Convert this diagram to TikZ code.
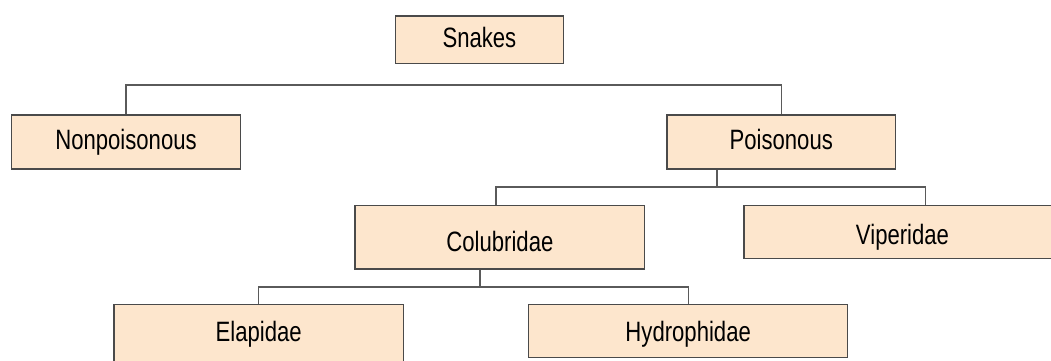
\documentclass[tikz,border=0pt]{standalone}
\usepackage{fontspec}
\setmainfont{Liberation Sans}[FakeStretch=0.79]
\definecolor{boxfill}{HTML}{FDE6CD}
\definecolor{boxline}{HTML}{4A4A4A}
\definecolor{wirecol}{HTML}{5A5A5A}
\begin{document}
\begin{tikzpicture}[x=1pt,y=-1pt,
  box/.style={draw=boxline, line width=1.3pt, fill=boxfill, inner sep=0pt,
    font=\fontsize{28}{32}\selectfont, text depth=0pt},
  wire/.style={draw=wirecol, line width=1.2pt}]
\clip (0,0) rectangle (1051,360);
\fill[white] (0,0) rectangle (1051,360);
\node[box, minimum width=167.8pt, minimum height=47.5pt, text height=15.9pt] (snakes) at (479.4,39.75) {Snakes};
\node[box, minimum width=228.6pt, minimum height=54pt, text height=14.6pt] (nonp) at (126,142) {Nonpoisonous};
\node[box, minimum width=228.5pt, minimum height=54pt, text height=14.6pt] (pois) at (781.25,142) {Poisonous};
\node[box, minimum width=289.8pt, minimum height=63.3pt, text height=28.6pt] (colub) at (499.9,237.35) {Colubridae};
\node[box, minimum width=317pt, minimum height=52.6pt, text height=24pt] (viper) at (902.5,232) {Viperidae};
\node[box, minimum width=289.3pt, minimum height=57.3pt, text height=16.7pt] (elap) at (258.65,333.35) {Elapidae};
\node[box, minimum width=319pt, minimum height=52.6pt, text height=21.4pt] (hydro) at (688.2,331) {Hydrophidae};
% connectors
\coordinate (bus1) at (0,85);
\draw[wire] (nonp.north) |- (pois.north |- bus1) -- (pois.north);
\coordinate (p2) at (717,187);
\coordinate (b2l) at (496,187);
\coordinate (b2r) at (925.5,187);
\draw[wire] (p2 |- pois.south) -- (p2);
\draw[wire] (b2l |- colub.north) -- (b2l) -- (b2r) -- (b2r |- viper.north);
\coordinate (c3) at (480,287);
\draw[wire] (c3 |- colub.south) -- (c3);
\draw[wire] (elap.north) |- (hydro.north |- c3) -- (hydro.north);
\end{tikzpicture}
\end{document}
